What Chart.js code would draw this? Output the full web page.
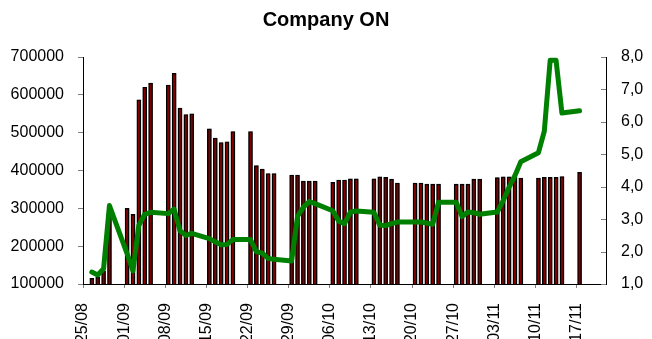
<!DOCTYPE html>
<html>
<head>
<meta charset="utf-8">
<script src="https://cdn.jsdelivr.net/npm/chart.js@4/dist/chart.umd.min.js"></script>
<style>
  html, body { margin: 0; padding: 0; background: #fff; }
</style>
</head>
<body>
<canvas id="chart" width="652" height="339"></canvas>
<script>
'use strict';

// trading days (dd/mm, 2008)
const days = [
  '26/08','27/08','28/08','29/08',
  '01/09','02/09','03/09','04/09','05/09',
  '08/09','09/09','10/09','11/09','12/09',
  '15/09','16/09','17/09','18/09','19/09',
  '22/09','23/09','24/09','25/09','26/09',
  '29/09','30/09','01/10','02/10','03/10',
  '06/10','07/10','08/10','09/10','10/10',
  '13/10','14/10','15/10','16/10','17/10',
  '20/10','21/10','22/10','23/10','24/10',
  '27/10','28/10','29/10','30/10','31/10',
  '03/11','04/11','05/11','06/11','07/11',
  '10/11','11/11','12/11','13/11','14/11',
  '17/11'
];

// bars, left axis
const volume = [
  115000, 118000, 135000, 295000,
  300000, 284000, 587000, 620000, 631000,
  626000, 657000, 565000, 548000, 550000,
  510000, 486000, 474000, 476000, 503000,
  503000, 413000, 404000, 392000, 392000,
  388000, 388000, 372000, 372000, 372000,
  369000, 375000, 375000, 378000, 378000,
  378000, 383000, 382000, 377000, 367000,
  367000, 367000, 364000, 364000, 364000,
  364000, 364000, 364000, 377000, 377000,
  381000, 383000, 383000, 383000, 380000,
  380000, 382000, 382000, 382000, 384000,
  395000
];

// green line, right axis
const price = [
  1.37, 1.28, 1.47, 3.42,
  1.94, 1.40, 2.81, 3.15, 3.21,
  3.17, 3.31, 2.64, 2.50, 2.56,
  2.40, 2.30, 2.21, 2.22, 2.37,
  2.37, 2.00, 1.95, 1.79, 1.76,
  1.71, 3.08, 3.37, 3.54, 3.48,
  3.26, 2.94, 2.86, 3.22, 3.25,
  3.21, 2.81, 2.80, 2.86, 2.91,
  2.91, 2.91, 2.88, 2.84, 3.52,
  3.52, 3.08, 3.22, 3.20, 3.15,
  3.22, 3.57, 3.98, 4.34, 4.77,
  5.05, 5.71, 7.90, 7.90, 6.27,
  6.34
];

const tickLabels = ['25/08','01/09','08/09','15/09','22/09','29/09','06/10',
  '13/10','20/10','27/10','03/11','10/11','17/11'];

// days since 25/08
function dayIndex(s) {
  const [d, m] = s.split('/').map(Number);
  return (Date.UTC(2008, m - 1, d) - Date.UTC(2008, 7, 25)) / 86400000;
}

Chart.defaults.font.family = "'Liberation Sans', Arial, sans-serif";
Chart.defaults.color = '#000';

const barShadow = {
  id: 'barShadow',
  beforeDatasetDraw(chart, args) {
    if (args.meta.type !== 'bar') return;
    const ctx = chart.ctx;
    ctx.save();
    ctx.shadowColor = 'rgba(0,0,0,0.3)';
    ctx.shadowOffsetX = 1.5;
    ctx.shadowOffsetY = 0;
  },
  afterDatasetDraw(chart, args) {
    if (args.meta.type !== 'bar') return;
    chart.ctx.restore();
  }
};

// right axis has its tick marks on the inside
const innerTicks = {
  id: 'innerTicks',
  afterDraw(chart) {
    const s = chart.scales.y2, ctx = chart.ctx;
    ctx.save();
    ctx.strokeStyle = '#808080';
    ctx.lineWidth = 1;
    s.ticks.forEach(t => {
      const y = Math.round(s.getPixelForValue(t.value)) + 0.5;
      ctx.beginPath();
      ctx.moveTo(s.left - 5, y);
      ctx.lineTo(s.left, y);
      ctx.stroke();
    });
    ctx.restore();
  }
};

new Chart(document.getElementById('chart'), {
  type: 'bar',
  data: {
    datasets: [{
      type: 'line',
      data: days.map((d, i) => ({ x: dayIndex(d) + 0.5, y: price[i] })),
      yAxisID: 'y2',
      borderColor: '#008000',
      borderWidth: 5,
      pointRadius: 0,
      tension: 0,
      borderJoinStyle: 'round',
      borderCapStyle: 'round',
      order: 0
    }, {
      type: 'bar',
      data: days.map((d, i) => ({ x: dayIndex(d) + 0.5, y: volume[i] })),
      yAxisID: 'y',
      backgroundColor: '#800000',
      borderColor: '#000',
      borderWidth: 1.4,
      barThickness: 4,
      order: 1
    }]
  },
  options: {
    responsive: false,
    animation: false,
    layout: { padding: { top: 8, left: 0, right: 0, bottom: 0 } },
    plugins: {
      legend: { display: false },
      tooltip: { enabled: false },
      title: {
        display: true,
        text: 'Company ON',
        color: '#000',
        font: { size: 20, weight: 'bold' },
        padding: { top: 0, bottom: 25 }
      }
    },
    scales: {
      x: {
        type: 'linear',
        min: 0,
        max: 89,
        offset: false,
        afterBuildTicks: s => { s.ticks = tickLabels.map(l => ({ value: dayIndex(l) })); },
        ticks: {
          autoSkip: false,
          minRotation: 90,
          maxRotation: 90,
          padding: 15,
          font: { size: 16 },
          callback: v => tickLabels[Math.round(v / 7)]
        },
        grid: { drawOnChartArea: false, tickLength: 4, color: '#808080', offset: false },
        border: { color: '#000' },
        afterFit: s => { s.height = 55; }
      },
      y: {
        position: 'left',
        min: 100000,
        max: 700000,
        ticks: { stepSize: 100000, padding: 14, font: { size: 16 }, callback: v => String(v) },
        grid: { drawOnChartArea: false, tickLength: 5, color: '#808080' },
        border: { color: '#000' },
        afterFit: s => { s.width = 83; }
      },
      y2: {
        position: 'right',
        min: 1,
        max: 8,
        ticks: { stepSize: 1, padding: 15, font: { size: 16 }, callback: v => v.toFixed(1).replace('.', ',') },
        grid: { drawOnChartArea: false, drawTicks: false },
        border: { color: '#000' },
        afterFit: s => { s.width = 46; }
      }
    }
  },
  plugins: [barShadow, innerTicks]
});
</script>
</body>
</html>
